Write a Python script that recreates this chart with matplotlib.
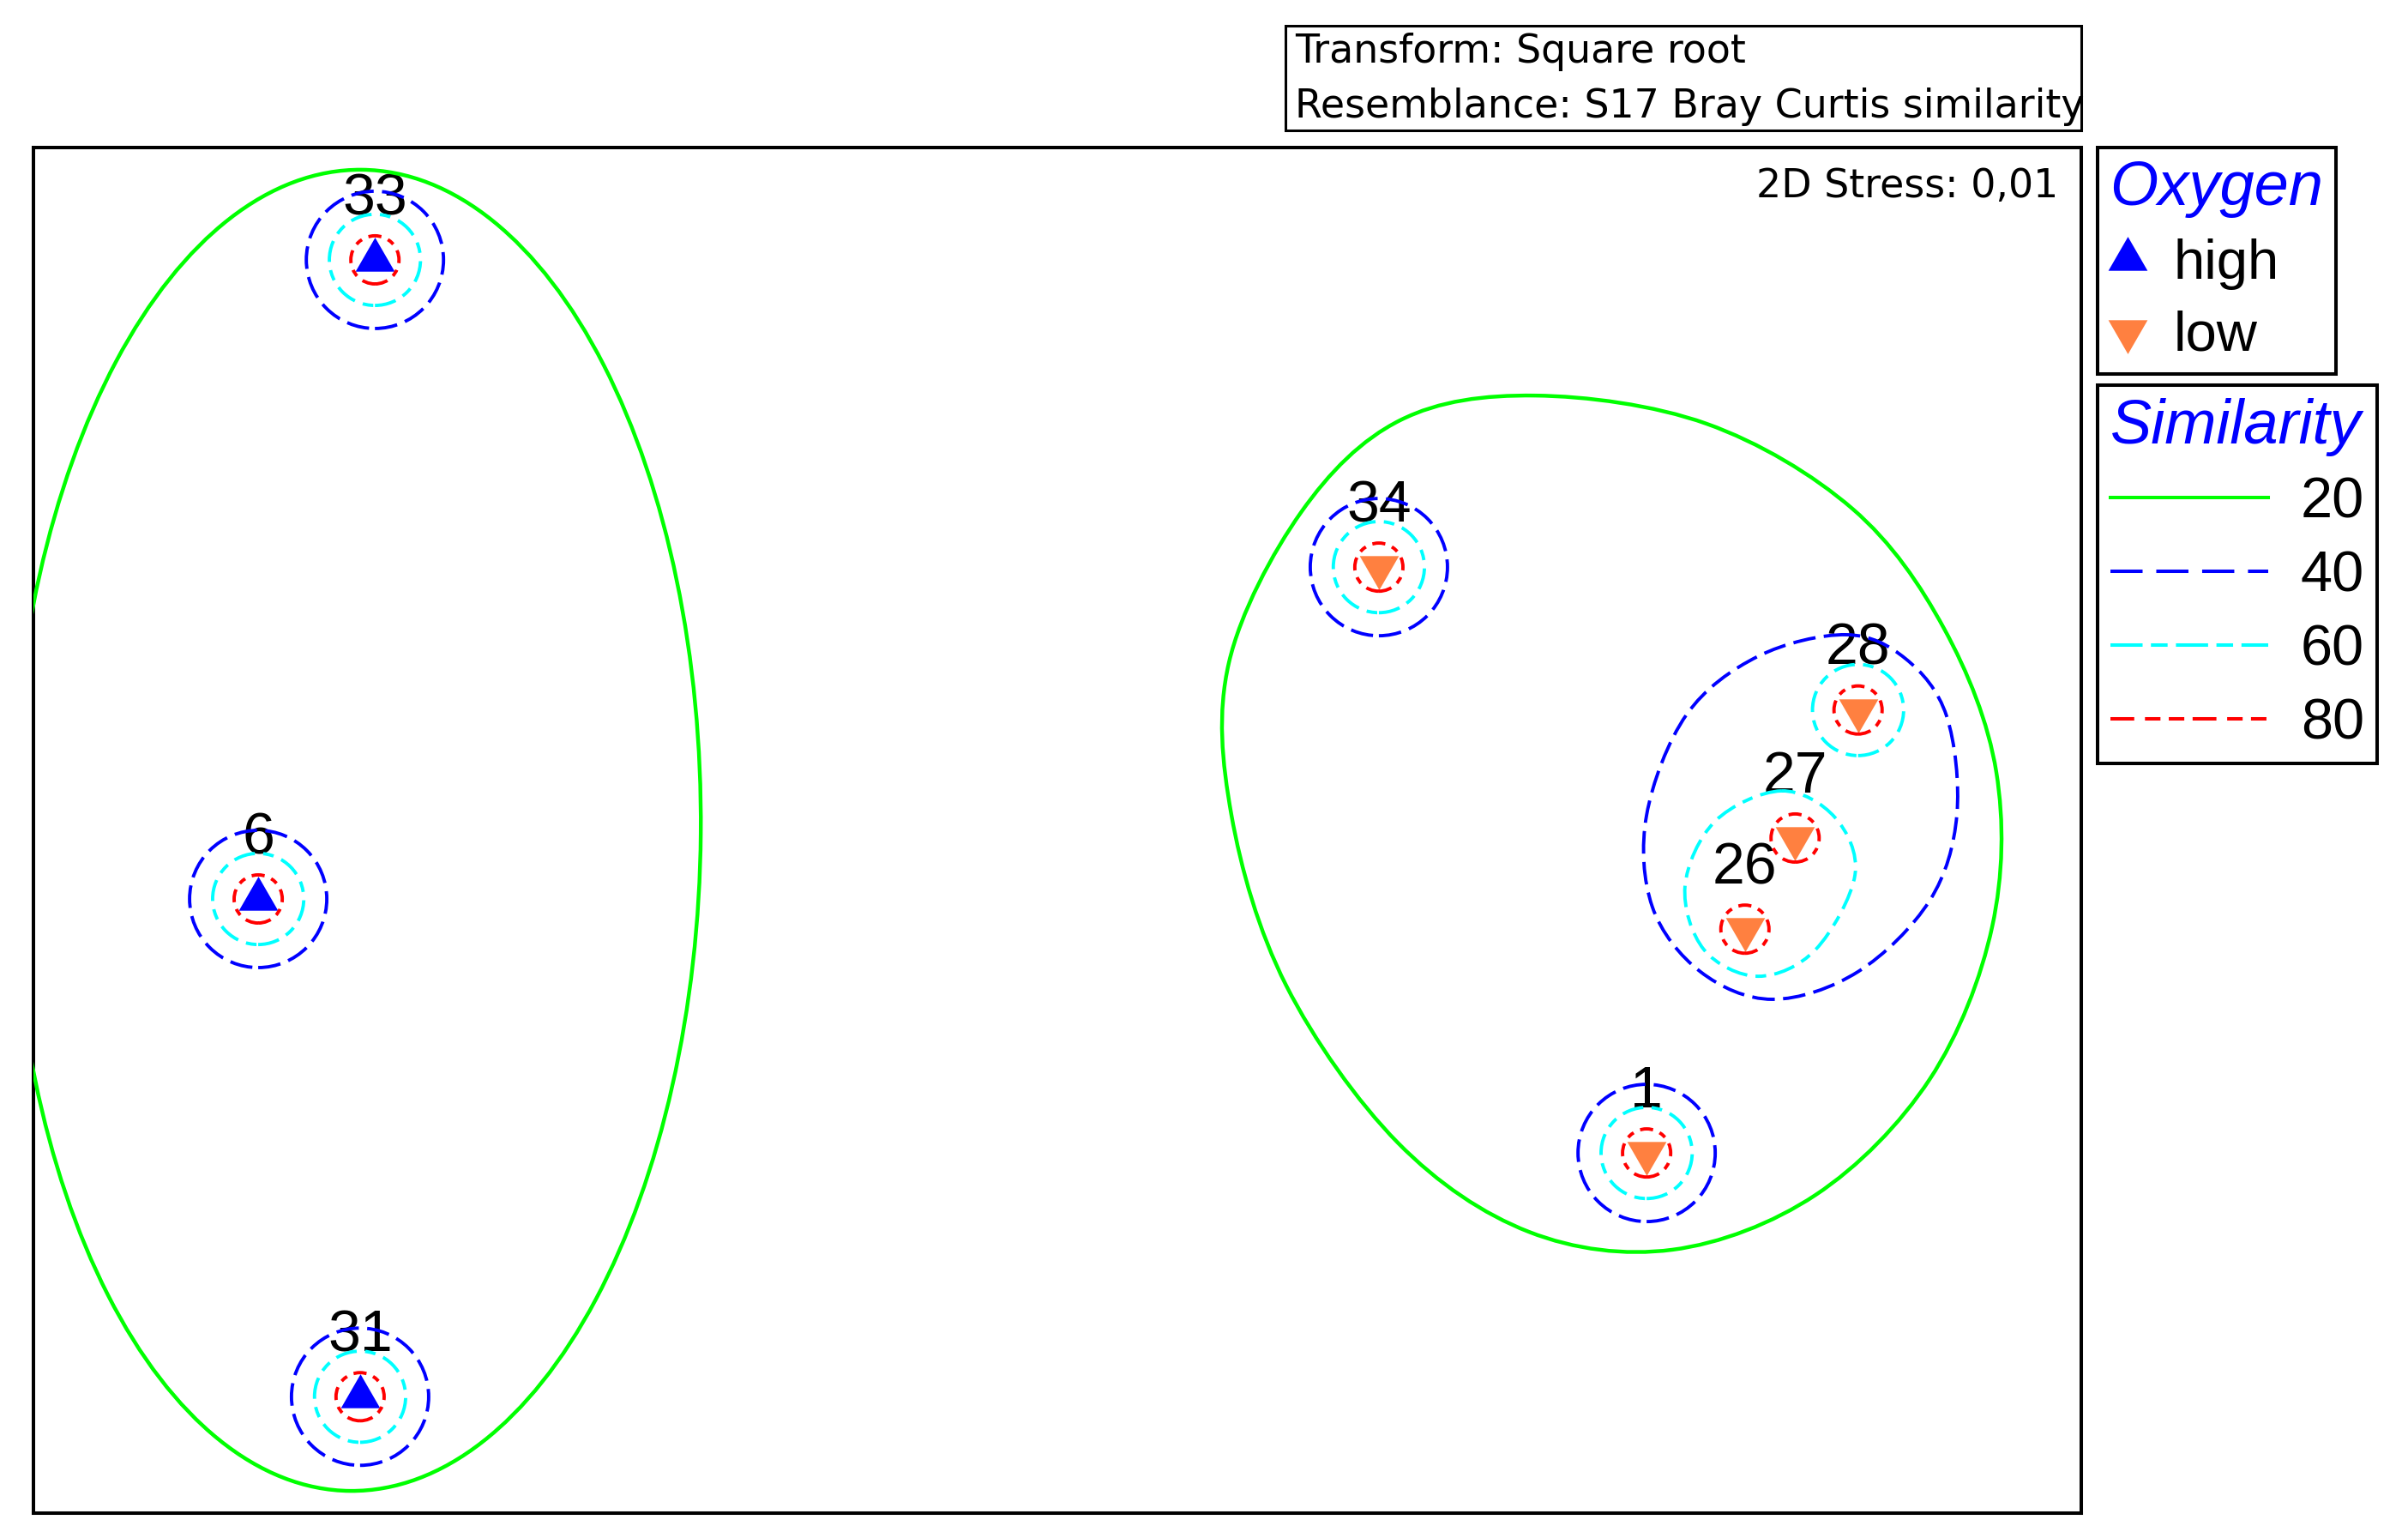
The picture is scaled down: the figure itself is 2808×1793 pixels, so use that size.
import numpy as np
import matplotlib.pyplot as plt
from matplotlib.patches import Circle, Ellipse, PathPatch, Rectangle
from matplotlib.path import Path
from matplotlib.lines import Line2D

plt.rcParams['font.family'] = ['Liberation Sans', 'DejaVu Sans']
plt.rcParams['lines.scale_dashes'] = False

# nMDS coordinates of the samples
samples = ['33', '6', '31', '34', '28', '27', '26', '1']
mds_x = [-1.333, -1.561, -1.362, 0.628, 1.564, 1.441, 1.343, 1.151]
mds_y = [1.114, -0.134, -1.106, 0.514, 0.235, -0.015, -0.193, -0.630]
oxygen = ['high', 'high', 'high', 'low', 'low', 'low', 'low', 'low']

# similarity levels; single-sample clusters drawn as circles
levels = [20, 40, 60, 80]
circle_radius = {40: 0.134, 60: 0.089, 80: 0.047}
single_40 = ['33', '6', '31', '34', '1']
single_60 = ['33', '6', '31', '34', '28', '1']
single_80 = samples

# 20 % cluster of the high-oxygen samples (ellipse)
left20_center = (-1.370, 0.0)
left20_width = 1.347
left20_height = 2.580
left20_angle = -0.5

# 20 % cluster of the low-oxygen samples (outline)
right20_x = [0.933, 1.268, 1.553, 1.732, 1.834, 1.826, 1.704, 1.481,
             1.201, 0.921, 0.665, 0.447, 0.340, 0.335, 0.476, 0.670]
right20_y = [0.849, 0.794, 0.628, 0.394, 0.114, -0.188, -0.486, -0.712,
             -0.819, -0.784, -0.610, -0.303, 0.030, 0.327, 0.621, 0.801]

# 40 % cluster of samples 26, 27, 28
grp40_x = [1.541, 1.369, 1.229, 1.151, 1.162, 1.256, 1.397, 1.564,
           1.704, 1.757, 1.737, 1.657]
grp40_y = [0.382, 0.340, 0.226, 0.030, -0.149, -0.276, -0.330, -0.276,
           -0.137, 0.030, 0.223, 0.335]

# 60 % cluster of samples 26, 27
grp60_x = [1.414, 1.285, 1.226, 1.263, 1.369, 1.481, 1.558, 1.519]
grp60_y = [0.077, 0.018, -0.109, -0.233, -0.285, -0.233, -0.087, 0.025]

level_color = {20: '#00FF00', 40: '#0000FF', 60: '#00FFFF', 80: '#FF0000'}
level_style = {20: '-', 40: (0, (19, 7)), 60: (0, (18, 7, 9, 7)), 80: (0, (11, 6, 6, 6))}
legend_style = {20: '-', 40: (0, (27, 11.5)), 60: (0, (27, 7, 14, 7)),
                80: (0, (20, 9, 13, 7, 13, 7))}
lw = 2.8

ox_color = {'high': '#0000FF', 'low': '#FF8040'}
ox_marker = {'high': [(0, 1), (-0.866, -0.5), (0.866, -0.5), (0, 1)],
             'low': [(0, -1), (-0.866, 0.5), (0.866, 0.5), (0, -1)]}


def smooth_loop(xs, ys):
    p = np.column_stack([xs, ys])
    n = len(p)
    verts = [p[0]]
    codes = [Path.MOVETO]
    for i in range(n):
        p0, p1, p2, p3 = p[i - 1], p[i], p[(i + 1) % n], p[(i + 2) % n]
        verts += [p1 + (p2 - p0) / 6, p2 - (p3 - p1) / 6, p2]
        codes += [Path.CURVE4] * 3
    return Path(verts, codes)


fig = plt.figure(figsize=(28.08, 17.93), dpi=100)
ax = fig.add_axes([39 / 2808, 29 / 1793, 2388 / 2808, 1592 / 1793])
ax.set_xlim(-2, 2)
ax.set_ylim(-4 / 3, 4 / 3)
ax.set_xticks([])
ax.set_yticks([])
for s in ax.spines.values():
    s.set_linewidth(2.9)

# points
for lev in ['high', 'low']:
    xs = [x for x, o in zip(mds_x, oxygen) if o == lev]
    ys = [y for y, o in zip(mds_y, oxygen) if o == lev]
    ax.plot(xs, ys, linestyle='none', marker=ox_marker[lev], markersize=38,
            color=ox_color[lev], markeredgewidth=0, label=lev, zorder=3)

# sample labels
for name, x, y in zip(samples, mds_x, mds_y):
    ax.annotate(name, (x, y), xytext=(0, 38), textcoords='offset points',
                ha='center', va='baseline', fontsize=49, zorder=3)

# single-sample circles
pos = {n: (x, y) for n, x, y in zip(samples, mds_x, mds_y)}
for lev, members in [(40, single_40), (60, single_60), (80, single_80)]:
    for n in members:
        ax.add_patch(Circle(pos[n], circle_radius[lev], fill=False,
                            edgecolor=level_color[lev], linestyle=level_style[lev],
                            linewidth=lw, zorder=4))

# group contours
ax.add_patch(Ellipse(left20_center, left20_width, left20_height, angle=left20_angle,
                     fill=False, edgecolor=level_color[20], linewidth=3.2, zorder=4))
ax.add_patch(PathPatch(smooth_loop(right20_x, right20_y), fill=False,
                       edgecolor=level_color[20], linewidth=3.2, zorder=4))
ax.add_patch(PathPatch(smooth_loop(grp40_x, grp40_y), fill=False,
                       edgecolor=level_color[40], linestyle=level_style[40],
                       linewidth=lw, zorder=4))
ax.add_patch(PathPatch(smooth_loop(grp60_x, grp60_y), fill=False,
                       edgecolor=level_color[60], linestyle=level_style[60],
                       linewidth=lw, zorder=4))

ax.text(0.9887, 0.9636, '2D Stress: 0,01', transform=ax.transAxes, ha='right',
        va='baseline', fontsize=33, family='DejaVu Sans')

# legends
leg_kw = dict(loc='upper left', bbox_transform=fig.transFigure, borderaxespad=0,
              frameon=True, fancybox=False, edgecolor='black', framealpha=1,
              alignment='left', borderpad=0.22,
              title_fontproperties={'size': 52, 'style': 'italic'})
leg1 = ax.legend(title='Oxygen', bbox_to_anchor=(2446 / 2808, 1 - 172 / 1793),
                 fontsize=47, handlelength=0.64, handletextpad=0.5,
                 labelspacing=0.36, **leg_kw)
leg1.get_title().set_color('#0000FF')
leg1.get_frame().set_linewidth(2.9)
ax.add_artist(leg1)

sim_handles = [Line2D([], [], color=level_color[l], linestyle=legend_style[l],
                      linewidth=2.9) for l in levels]
leg2 = ax.legend(sim_handles, [str(l) for l in levels], title='Similarity',
                 bbox_to_anchor=(2446 / 2808, 1 - 449 / 1793), fontsize=48,
                 handlelength=2.76, handletextpad=0.57, labelspacing=0.36, **leg_kw)
leg2.get_title().set_color('#0000FF')
leg2.get_frame().set_linewidth(2.9)

# transform / resemblance box
fig.add_artist(Rectangle((1499 / 2808, 1 - 152 / 1793), 928 / 2808, 122 / 1793,
                         transform=fig.transFigure, facecolor='white',
                         edgecolor='black', linewidth=2.2))
fig.text(1510 / 2808, 1 - 73 / 1793, 'Transform: Square root', fontsize=33,
         family='DejaVu Sans', va='baseline')
fig.text(1510 / 2808, 1 - 137 / 1793, 'Resemblance: S17 Bray Curtis similarity',
         fontsize=33, family='DejaVu Sans', va='baseline')

fig.savefig('out.png', dpi=100)
